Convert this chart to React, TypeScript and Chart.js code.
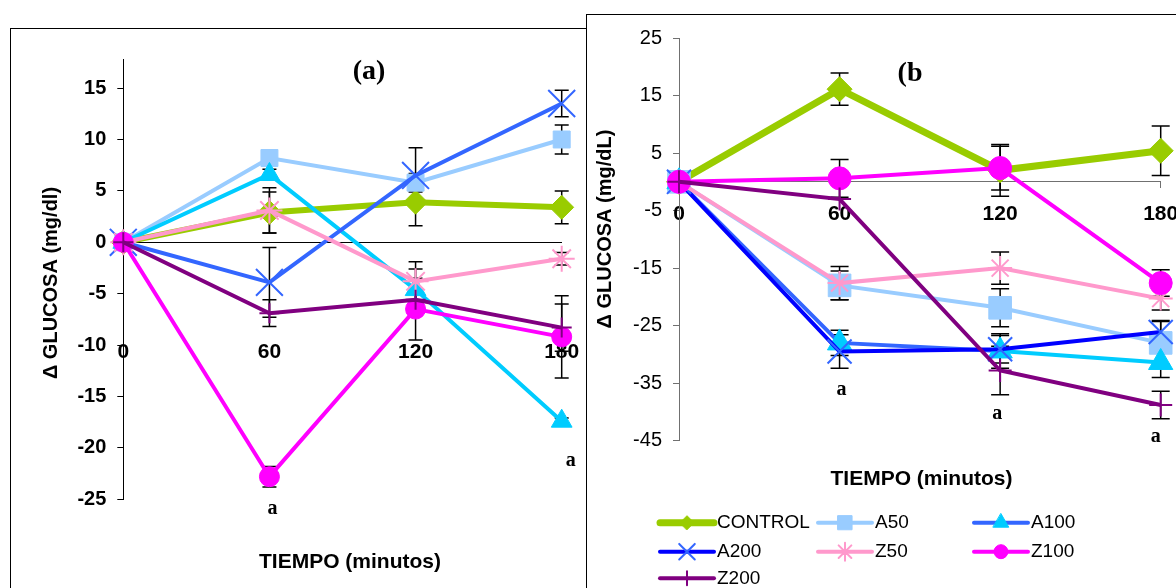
import React, { useEffect, useRef } from 'react';
import { Chart, registerables } from 'chart.js';
import { drawPoint } from 'chart.js/helpers';

Chart.register(...registerables);

const SANS = '"Liberation Sans", Arial, sans-serif';
const SERIF = '"Liberation Serif", "Times New Roman", serif';

// ---------- shared categories ----------
const TIMES = ['0', '60', '120', '180'];
const SERIES = ['CONTROL', 'A50', 'A100', 'A200', 'Z50', 'Z100', 'Z200'];

// ---------- panel (a): values and error bars ----------
const A_CONTROL = [0, 2.9, 3.9, 3.4];
const A_CONTROL_ERR = [0, 2.0, 2.3, 1.6];
const A_A50 = [0, 8.2, 5.8, 10.0];
const A_A50_ERR = [0, 0, 0.9, 1.4];
const A_A100 = [0, 6.6, -4.6, -17.4];
const A_A100_ERR = [0, 0.5, 2.0, 0.3];
const A_A200 = [0, -3.9, 6.5, 13.5];
const A_A200_ERR = [0, 3.4, 2.7, 1.3];
const A_Z50 = [0, 3.1, -3.8, -1.6];
const A_Z50_ERR = [0, 2.2, 1.9, 0.6];
const A_Z100 = [0, -22.8, -6.5, -9.2];
const A_Z100_ERR = [0, 1.0, 3.0, 4.0];
const A_Z200 = [0, -6.9, -5.6, -8.3];
const A_Z200_ERR = [0, 1.3, 1.0, 2.3];

// ---------- panel (b): values and error bars ----------
const B_CONTROL = [0, 16.1, 2.0, 5.4];
const B_CONTROL_ERR = [0, 2.8, 4.5, 4.3];
const B_A50 = [0, -18.0, -21.9, -28.0];
const B_A50_ERR = [0, 2.5, 3.3, 3.7];
const B_A100 = [0, -28.0, -29.4, -31.4];
const B_A100_ERR = [0, 2.2, 3.0, 2.6];
const B_A200 = [0, -29.5, -29.1, -26.1];
const B_A200_ERR = [0, 2.9, 2.4, 2.0];
const B_Z50 = [0, -17.6, -15.0, -20.3];
const B_Z50_ERR = [0, 2.9, 2.8, 2.0];
const B_Z100 = [0, 0.6, 2.4, -17.6];
const B_Z100_ERR = [0, 3.3, 3.8, 2.3];
const B_Z200 = [0, -3.0, -32.8, -38.8];
const B_Z200_ERR = [0, 0, 4.2, 2.4];

// ---------- significance letters ("a") ----------
const SIG_A_X = ['60', '180'];
const SIG_A_Y = [-25.9, -21.3];
const SIG_B_X = ['60', '120', '180'];
const SIG_B_Y = [-36.1, -40.3, -44.4];

// ---------- axis ranges ----------
const A_Y_MIN = -25;
const A_Y_MAX = 17.8;
const A_Y_STEP = 5;
const B_Y_MIN = -45;
const B_Y_MAX = 25;
const B_Y_STEP = 10;

type Sty = {
  line: string; marker: string; width: number; style: string; r: number; bw: number;
  legendR?: number; lastSeg?: string;
};

const STYLE_A: Sty[] = [
  { line: '#99CC00', marker: '#99CC00', width: 6, style: 'rectRot', r: 12, bw: 1 },
  { line: '#99CCFF', marker: '#99CCFF', width: 4, style: 'rect', r: 12, bw: 1 },
  { line: '#00CCFF', marker: '#00CCFF', width: 4, style: 'triangle', r: 12, bw: 1 },
  { line: '#3366FF', marker: '#3366FF', width: 4, style: 'crossRot', r: 19, bw: 2 },
  { line: '#FF99CC', marker: '#FF99CC', width: 4, style: 'star', r: 13, bw: 2 },
  { line: '#FF00FF', marker: '#FF00FF', width: 4, style: 'circle', r: 10, bw: 1 },
  { line: '#800080', marker: '#800080', width: 4, style: 'cross', r: 10, bw: 2 },
];

const STYLE_B: Sty[] = [
  { line: '#99CC00', marker: '#99CC00', width: 7, style: 'rectRot', r: 12.5, bw: 1, legendR: 7 },
  { line: '#99CCFF', marker: '#99CCFF', width: 4, style: 'rect', r: 16, bw: 1, legendR: 10 },
  { line: '#3366FF', marker: '#00CCFF', width: 4, style: 'triangle', r: 14, bw: 1, legendR: 9, lastSeg: '#00CCFF' },
  { line: '#0000FF', marker: '#3366FF', width: 4, style: 'crossRot', r: 17, bw: 2, legendR: 11 },
  { line: '#FF99CC', marker: '#FF99CC', width: 4, style: 'star', r: 12, bw: 2, legendR: 9 },
  { line: '#FF00FF', marker: '#FF00FF', width: 4, style: 'circle', r: 11.5, bw: 1, legendR: 7 },
  { line: '#800080', marker: '#800080', width: 4, style: 'cross', r: 11.5, bw: 2, legendR: 7 },
];

function makeDatasets(values: number[][], errors: number[][], styles: Sty[]) {
  return values.map((vals, i) => {
    const s = styles[i];
    const ds: any = {
      label: SERIES[i],
      data: vals,
      errors: errors[i],
      borderColor: s.line,
      backgroundColor: s.marker,
      borderWidth: s.width,
      pointStyle: s.style,
      pointRadius: s.r,
      pointBackgroundColor: s.marker,
      pointBorderColor: s.marker,
      pointBorderWidth: s.bw,
      legendR: s.legendR ?? 7,
      tension: 0,
      fill: false,
      clip: false,
      order: values.length - i,
    };
    if (s.lastSeg) {
      const last = s.lastSeg;
      ds.segment = { borderColor: (ctx: any) => (ctx.p0DataIndex === 2 ? last : undefined) };
    }
    return ds;
  });
}

// ---------- plugins ----------
const errorBarPlugin = {
  id: 'errorBars',
  beforeDatasetsDraw(chart: any, _args: any, opts: any) {
    const { ctx } = chart;
    const y = chart.scales.y;
    const cap = opts.cap ?? 7;
    ctx.save();
    ctx.strokeStyle = opts.color ?? '#000';
    ctx.lineWidth = opts.lineWidth ?? 1.5;
    chart.data.datasets.forEach((ds: any, di: number) => {
      const errs: number[] = ds.errors;
      if (!errs) return;
      const meta = chart.getDatasetMeta(di);
      ds.data.forEach((v: number, i: number) => {
        const e = errs[i];
        if (!e) return;
        const px = meta.data[i].x;
        const yt = y.getPixelForValue(v + e);
        const yb = y.getPixelForValue(v - e);
        ctx.beginPath();
        ctx.moveTo(px, yt); ctx.lineTo(px, yb);
        ctx.moveTo(px - cap, yt); ctx.lineTo(px + cap, yt);
        ctx.moveTo(px - cap, yb); ctx.lineTo(px + cap, yb);
        ctx.stroke();
      });
    });
    ctx.restore();
  },
};

const textPlugin = {
  id: 'texts',
  afterDraw(chart: any, _args: any, opts: any) {
    const { ctx } = chart;
    const items = opts.items || [];
    items.forEach((it: any) => {
      ctx.save();
      ctx.font = it.font;
      ctx.fillStyle = it.color || '#000';
      ctx.textAlign = 'center';
      ctx.textBaseline = 'middle';
      ctx.translate(it.px, it.py);
      if (it.rotation) ctx.rotate(it.rotation);
      ctx.fillText(it.text, 0, 0);
      ctx.restore();
    });
    const sig = opts.sig;
    if (sig) {
      sig.xs.forEach((xv: string, i: number) => {
        const px = chart.scales.x.getPixelForValue(TIMES.indexOf(xv)) + (sig.dx[i] || 0);
        const py = chart.scales.y.getPixelForValue(sig.ys[i]);
        ctx.save();
        ctx.font = sig.font;
        ctx.fillStyle = '#000';
        ctx.textAlign = 'center';
        ctx.textBaseline = 'middle';
        ctx.fillText(sig.text, px, py);
        ctx.restore();
      });
    }
  },
};

const legendPlugin = {
  id: 'gridLegend',
  afterDraw(chart: any, _args: any, opts: any) {
    if (!opts || !opts.display) return;
    const { ctx } = chart;
    chart.data.datasets.forEach((ds: any, i: number) => {
      const row = Math.floor(i / 3);
      const col = i % 3;
      const y = opts.rowY[row];
      const x0 = opts.lineX[col];
      ctx.save();
      ctx.strokeStyle = ds.borderColor;
      ctx.lineWidth = ds.borderWidth;
      ctx.lineCap = 'round';
      ctx.beginPath();
      ctx.moveTo(x0, y);
      ctx.lineTo(x0 + opts.lineLen, y);
      ctx.stroke();
      ctx.fillStyle = ds.pointBackgroundColor;
      ctx.strokeStyle = ds.pointBorderColor;
      ctx.lineWidth = ds.pointBorderWidth;
      drawPoint(ctx, { pointStyle: ds.pointStyle, rotation: 0, radius: ds.legendR, borderWidth: ds.pointBorderWidth } as any,
        x0 + opts.lineLen / 2, y);
      ctx.fillStyle = '#000';
      ctx.font = opts.font;
      ctx.textAlign = 'left';
      ctx.textBaseline = 'middle';
      ctx.fillText(ds.label, opts.textX[col], y);
      ctx.restore();
    });
  },
};

type PanelCfg = {
  datasets: any[];
  padding: any;
  yWidth: number;
  yMin: number; yMax: number; yStep: number;
  yBold: boolean;
  axisColor: string;
  xTickLen: number;
  xTickColor: string;
  xPad: number;
  texts: any[];
  sig: any;
  cap: number;
  legend: any;
};

function buildConfig(p: PanelCfg): any {
  return {
    type: 'line',
    data: { labels: TIMES, datasets: p.datasets },
    options: {
      responsive: false,
      maintainAspectRatio: false,
      animation: false,
      events: [],
      layout: { padding: p.padding },
      plugins: {
        legend: { display: false },
        tooltip: { enabled: false },
        title: { display: false },
        errorBars: { cap: p.cap, color: '#000', lineWidth: 1.5 },
        texts: { items: p.texts, sig: p.sig },
        gridLegend: p.legend,
      },
      scales: {
        x: {
          type: 'category',
          position: { y: 0 },
          offset: false,
          grid: {
            display: true, drawOnChartArea: false, drawTicks: true,
            tickLength: p.xTickLen, color: p.axisColor, tickColor: p.xTickColor,
          },
          border: { display: true, color: p.axisColor, width: 1 },
          ticks: {
            padding: p.xPad, color: '#000', maxRotation: 0, autoSkip: false,
            font: { family: SANS, size: 21, weight: 'bold' },
          },
        },
        y: {
          type: 'linear',
          position: 'left',
          min: p.yMin,
          max: p.yMax,
          afterFit: (s: any) => { s.width = p.yWidth; },
          afterBuildTicks: (s: any) => {
            s.ticks = s.ticks.filter((t: any) => {
              const k = (t.value - p.yMin) / p.yStep;
              return Math.abs(k - Math.round(k)) < 1e-6;
            });
          },
          grid: { display: true, drawOnChartArea: false, drawTicks: true, tickLength: 6, color: p.axisColor },
          border: { display: true, color: p.axisColor, width: 1 },
          ticks: {
            stepSize: p.yStep, padding: 11, color: '#000',
            font: { family: SANS, size: 20, weight: p.yBold ? 'bold' : 'normal' },
          },
        },
      },
    },
    plugins: [errorBarPlugin, textPlugin, legendPlugin],
  };
}

const PANEL_A: PanelCfg = {
  datasets: makeDatasets(
    [A_CONTROL, A_A50, A_A100, A_A200, A_Z50, A_Z100, A_Z200],
    [A_CONTROL_ERR, A_A50_ERR, A_A100_ERR, A_A200_ERR, A_Z50_ERR, A_Z100_ERR, A_Z200_ERR],
    STYLE_A,
  ),
  padding: { left: 0, top: 30.3, right: 27.3, bottom: 129.7 },
  yWidth: 112.3,
  yMin: A_Y_MIN, yMax: A_Y_MAX, yStep: A_Y_STEP,
  yBold: true,
  axisColor: '#000',
  xTickLen: 97,
  xTickColor: 'rgba(0,0,0,0)',
  xPad: 0,
  texts: [
    { text: '(a)', px: 358, py: 43, font: `bold 28px ${SERIF}` },
    { text: 'TIEMPO (minutos)', px: 339, py: 533, font: `bold 21px ${SANS}` },
    { text: '\u0394 GLUCOSA (mg/dl)', px: 40, py: 254, rotation: -Math.PI / 2, font: `bold 20px ${SANS}` },
  ],
  sig: { text: 'a', xs: SIG_A_X, ys: SIG_A_Y, dx: [3, 9], font: `bold 20px ${SERIF}` },
  cap: 7,
  legend: { display: false },
};

const PANEL_B: PanelCfg = {
  datasets: makeDatasets(
    [B_CONTROL, B_A50, B_A100, B_A200, B_Z50, B_Z100, B_Z200],
    [B_CONTROL_ERR, B_A50_ERR, B_A100_ERR, B_A200_ERR, B_Z50_ERR, B_Z100_ERR, B_Z200_ERR],
    STYLE_B,
  ),
  padding: { left: 0, top: 19.7, right: 66.3, bottom: 174.3 },
  yWidth: 92,
  yMin: B_Y_MIN, yMax: B_Y_MAX, yStep: B_Y_STEP,
  yBold: false,
  axisColor: '#707070',
  xTickLen: 6,
  xTickColor: '#707070',
  xPad: 14,
  texts: [
    { text: '(b', px: 323, py: 59, font: `bold 28px ${SERIF}` },
    { text: 'TIEMPO (minutos)', px: 334.5, py: 464, font: `bold 21px ${SANS}` },
    { text: '\u0394 GLUCOSA (mg/dL)', px: 18, py: 214, rotation: -Math.PI / 2, font: `bold 20px ${SANS}` },
  ],
  sig: { text: 'a', xs: SIG_B_X, ys: SIG_B_Y, dx: [2, -3, -5], font: `bold 20px ${SERIF}` },
  cap: 9,
  legend: {
    display: true,
    rowY: [507.7, 536.7, 563.3],
    lineX: [73, 231, 387],
    lineLen: 54,
    textX: [130, 288, 444],
    font: `19px ${SANS}`,
  },
};

export default function App() {
  const refA = useRef<HTMLCanvasElement>(null);
  const refB = useRef<HTMLCanvasElement>(null);
  useEffect(() => {
    const ca = new Chart(refA.current as HTMLCanvasElement, buildConfig(PANEL_A));
    const cb = new Chart(refB.current as HTMLCanvasElement, buildConfig(PANEL_B));
    return () => { ca.destroy(); cb.destroy(); };
  }, []);
  return (
    <div style={{ position: 'fixed', left: 0, top: 0, width: 1176, height: 588, overflow: 'hidden', background: '#fff' }}>
      <div style={{ position: 'absolute', left: 10, top: 28, width: 578, height: 600, border: '1px solid #000', background: '#fff' }}>
        <canvas ref={refA} width={578} height={600} style={{ display: 'block', width: 578, height: 600 }} />
      </div>
      <div style={{ position: 'absolute', left: 586, top: 14, width: 640, height: 600, border: '1px solid #000', background: '#fff' }}>
        <canvas ref={refB} width={640} height={600} style={{ display: 'block', width: 640, height: 600 }} />
      </div>
    </div>
  );
}
